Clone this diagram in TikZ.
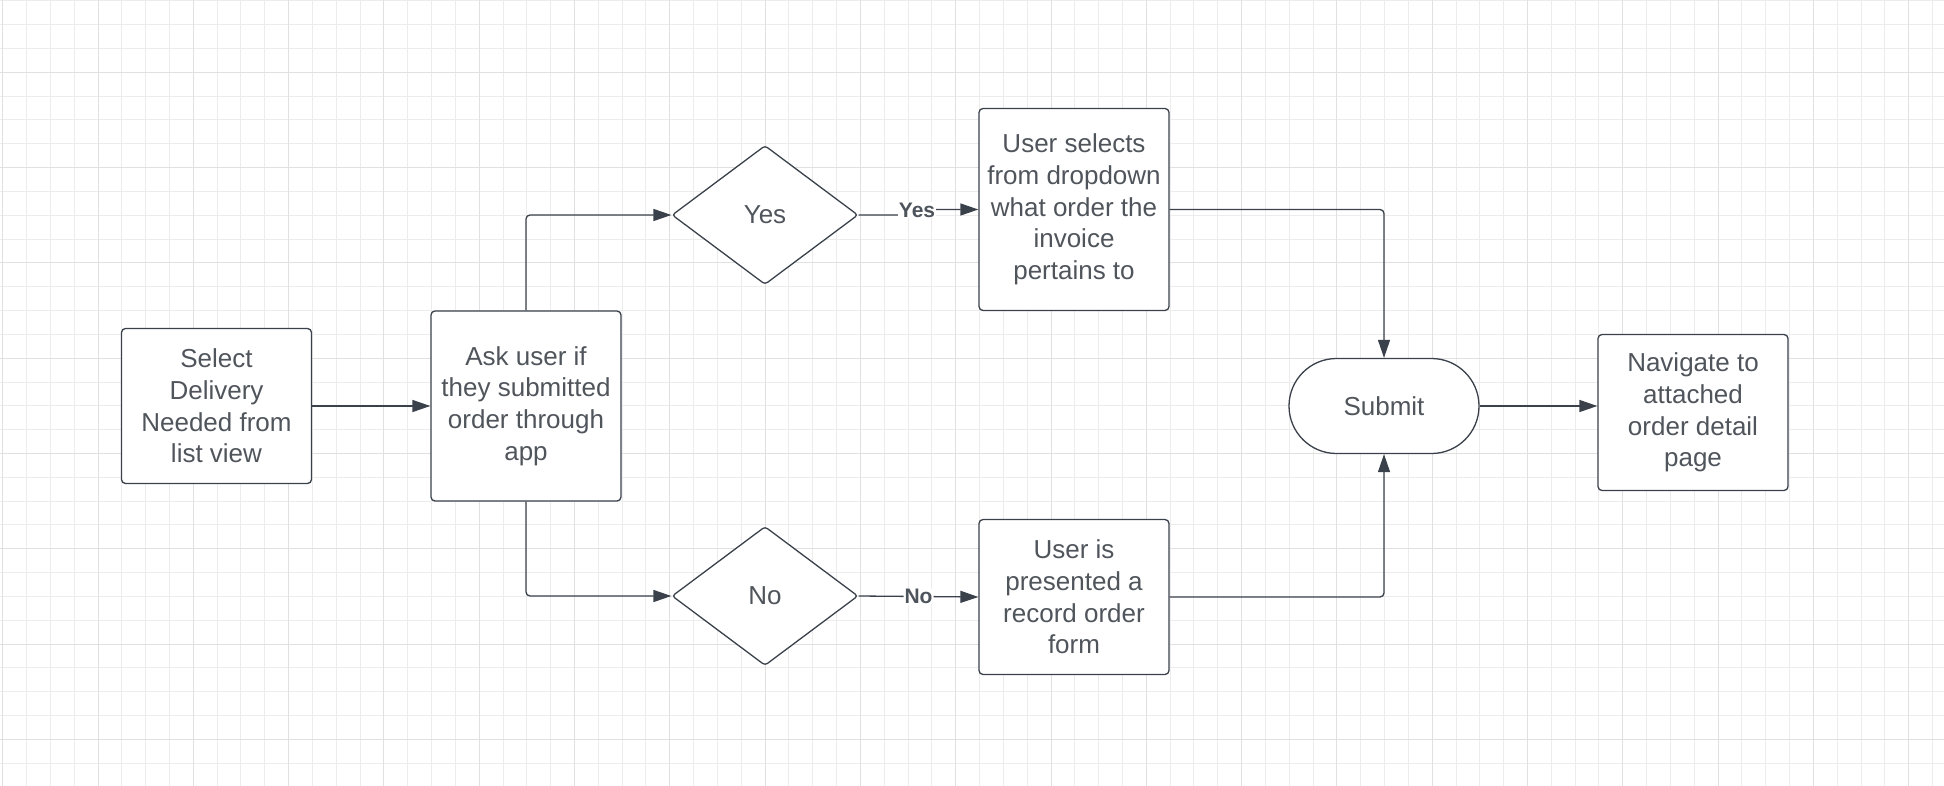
\documentclass[tikz,border=0pt]{standalone}
\usepackage{fontspec}
\setmainfont{Liberation Sans}
\usetikzlibrary{shapes.geometric,arrows.meta}
\definecolor{linegray}{RGB}{58,65,74}
\definecolor{textgray}{RGB}{80,85,92}
\definecolor{gridlight}{RGB}{236,236,236}
\definecolor{griddark}{RGB}{224,224,224}
\begin{document}
\begin{tikzpicture}[x=1bp, y=-1bp,
    minorline/.style={draw=gridlight, line width=1bp},
    majorline/.style={draw=griddark, line width=1bp},
    box/.style={rectangle, draw=linegray, line width=1.3bp, rounded corners=4bp, fill=white, text=textgray, minimum width=190bp, inner sep=0pt, align=center, font=\fontsize{26bp}{31.7bp}\selectfont},
    decision/.style={diamond, draw=linegray, line width=1.3bp, rounded corners=3bp, fill=white, text=textgray, minimum width=186bp, minimum height=139bp, inner sep=0pt, font=\fontsize{26bp}{31.7bp}\selectfont},
    terminal/.style={box, rounded corners=47.5bp, minimum height=95bp},
    conn/.style={draw=linegray, line width=1.3bp, rounded corners=4bp, -{Triangle[length=18bp, width=12bp]}},
    lbl/.style={fill=white, text=linegray!90, inner sep=1bp, font=\bfseries\fontsize{21bp}{24bp}\selectfont}]
        \useasboundingbox (0,0) rectangle (1944,786);
        \fill[white] (0,0) rectangle (1944,786);
        \foreach \k in {0,...,81} {\draw[minorline] ({2.7+23.825*\k},0) -- ({2.7+23.825*\k},786);}
        \foreach \k in {0,...,32} {\draw[minorline] (0,{0.825+23.825*\k}) -- (1944,{0.825+23.825*\k});}
        \foreach \k in {0,...,20} {\draw[majorline] ({2.7+95.3*\k},0) -- ({2.7+95.3*\k},786);}
        \foreach \k in {0,...,7} {\draw[majorline] (0,{72.3+95.3*\k}) -- (1944,{72.3+95.3*\k});}

        \node [box, minimum height=155bp] (sel) at (216.5,406) {Select\\Delivery\\Needed from\\list view};
        \node [box, minimum height=190bp] (ask) at (526,406) {Ask user if\\they submitted\\order through\\app};

        \node [decision] (yesd) at (765,215) {Yes};
        \node [decision] (nod) at (765,596) {No};

        \node [box, minimum height=202bp] (pick) at (1074,209.5) {User selects\\from dropdown\\what order the\\invoice\\pertains to};
        \node [box, minimum height=155bp] (form) at (1074,597) {User is\\presented a\\record order\\form};

        \node [terminal] (sub) at (1384,406) {Submit};
        \node [box, minimum height=156bp] (nav) at (1693,412.5) {Navigate to\\attached\\order detail\\page};

        \coordinate (yl) at (917,210);
        \draw [conn] (sel) -- (ask);
        \draw [conn] (ask.north) |- (yesd.west);
        \draw [conn] (ask.south) |- (nod.west);
        \draw [conn] (yesd.east) -- (yesd.east -| yl) -- (yl |- pick.west) -- (pick.west);
        \node [lbl] (yeslbl) at (yl) {Yes};
        \draw [conn] (nod.east) -- node [lbl] (nolbl) {No} (form.west);
        \draw [conn] (pick.east) -| (sub.north);
        \draw [conn] (form.east) -| (sub.south);
        \draw [conn] (sub.east) -- (sub.east -| nav.west);
\end{tikzpicture}
\end{document}
